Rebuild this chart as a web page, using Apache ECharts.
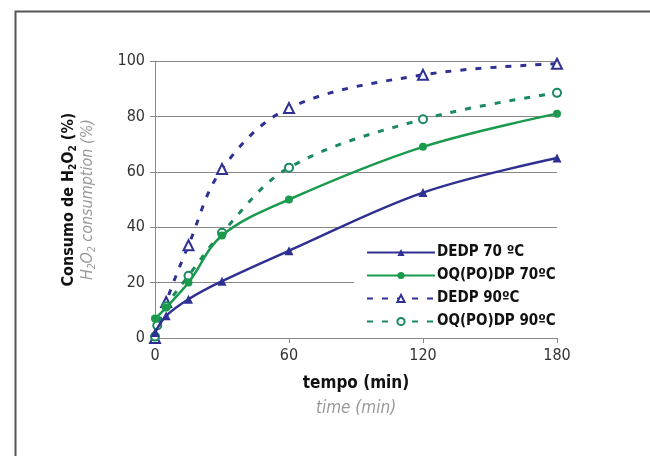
<!DOCTYPE html>
<html>
<head>
<meta charset="utf-8">
<script src="https://cdn.jsdelivr.net/npm/echarts@6/dist/echarts.min.js"></script>
<style>html,body{margin:0;padding:0;background:#fff}#c{width:650px;height:456px}</style>
</head>
<body>
<div id="c"></div>
<script>
var FONT = "'Liberation Sans Narrow','Arial Narrow','DejaVu Sans Condensed',sans-serif";
var seriesNames = ['DEDP 70 ºC', 'OQ(PO)DP 70ºC', 'DEDP 90ºC', 'OQ(PO)DP 90ºC'];
var xTicks = [0, 60, 120, 180];
var yTicks = [0, 20, 40, 60, 80, 100];
var dedp70 = [[0, 2], [5, 8], [15, 14], [30, 20.5], [60, 31.5], [120, 52.5], [180, 65]];
var oq70 = [[0, 7], [5, 11], [15, 20], [30, 37], [60, 50], [120, 69], [180, 81]];
var dedp90 = [[0, 0], [5, 13], [15, 33.5], [30, 61], [60, 83], [120, 95], [180, 99]];
var oq90 = [[0, 0.5], [1, 4.5], [5, 11.5], [15, 22.5], [30, 38], [60, 61.5], [120, 79], [180, 88.5]];

var NAVY = '#2e3192', GREEN = '#1a9a4c', GREEN2 = '#1a8a5e';
var chart = echarts.init(document.getElementById('c'));
chart.setOption({
  animation: false,
  backgroundColor: '#fff',
  graphic: [{
    type: 'rect', left: 13, top: 9, z: -10,
    shape: {x: 0, y: 0, width: 700, height: 500},
    style: {fill: 'none', stroke: '#555', lineWidth: 2}
  }],
  grid: {left: 155, right: 93, top: 61, bottom: 118},
  legend: {
    orient: 'vertical', left: 354, top: 238,
    backgroundColor: '#fff', padding: [6, 6, 6, 12],
    itemWidth: 68, itemHeight: 9, itemGap: 6,
    lineStyle: {width: 2},
    textStyle: {fontFamily: FONT, fontWeight: 'bold', fontSize: 15, color: '#111', lineHeight: 17, padding: [0, 0, 0, -3]},
    data: seriesNames
  },
  xAxis: {
    type: 'value', min: xTicks[0], max: xTicks[xTicks.length - 1], interval: 60,
    name: '{b|tempo (min)}\n{i|time (min)}',
    nameLocation: 'middle', nameGap: 33,
    nameTextStyle: {rich: {
      b: {fontFamily: FONT, fontWeight: 'bold', fontSize: 17, color: '#111', lineHeight: 25},
      i: {fontFamily: FONT, fontStyle: 'italic', fontSize: 17, color: '#999', lineHeight: 25}
    }},
    axisLine: {lineStyle: {color: '#888', width: 1}},
    axisTick: {show: true, length: 5, lineStyle: {color: '#888'}},
    axisLabel: {fontFamily: FONT, fontSize: 16, color: '#333', margin: 10},
    splitLine: {show: false}
  },
  yAxis: {
    type: 'value', min: yTicks[0], max: yTicks[yTicks.length - 1], interval: 20,
    name: '{b|Consumo de H}{bs|2}{b|O}{bs|2}{b| (%)}\n{i|H}{is|2}{i|O}{is|2}{i| consumption (%)}',
    nameLocation: 'middle', nameGap: 58, nameRotate: 90,
    nameTextStyle: {rich: {
      b: {fontFamily: FONT, fontWeight: 'bold', fontSize: 16, color: '#111', lineHeight: 19, verticalAlign: 'middle'},
      bs: {fontFamily: FONT, fontWeight: 'bold', fontSize: 10, color: '#111', lineHeight: 10, verticalAlign: 'bottom'},
      i: {fontFamily: FONT, fontStyle: 'italic', fontSize: 16, color: '#999', lineHeight: 19, verticalAlign: 'middle'},
      is: {fontFamily: FONT, fontStyle: 'italic', fontSize: 10, color: '#999', lineHeight: 10, verticalAlign: 'bottom'}
    }},
    axisLine: {show: true, lineStyle: {color: '#888', width: 1}},
    axisTick: {show: true, length: 5, lineStyle: {color: '#888'}},
    axisLabel: {fontFamily: FONT, fontSize: 16, color: '#333', margin: 10},
    splitLine: {show: true, lineStyle: {color: '#888', width: 1}}
  },
  series: [
    {name: seriesNames[0], type: 'line', data: dedp70, smooth: 0.35, symbol: 'triangle', symbolSize: 9,
      itemStyle: {color: NAVY}, lineStyle: {color: NAVY, width: 2.5}, z: 3},
    {name: seriesNames[1], type: 'line', data: oq70, smooth: 0.35, symbol: 'circle', symbolSize: 8,
      itemStyle: {color: GREEN}, lineStyle: {color: GREEN, width: 2.5}, z: 3},
    {name: seriesNames[2], type: 'line', data: dedp90, smooth: 0.35, symbol: 'emptyTriangle', symbolSize: 10,
      itemStyle: {color: NAVY, borderWidth: 1}, lineStyle: {color: NAVY, width: 3, type: [6, 9]}, z: 2},
    {name: seriesNames[3], type: 'line', data: oq90, smooth: 0.35, symbol: 'emptyCircle', symbolSize: 8,
      itemStyle: {color: GREEN2, borderWidth: 1.2}, lineStyle: {color: GREEN2, width: 3, type: [6, 9]}, z: 2}
  ]
});
</script>
</body>
</html>
